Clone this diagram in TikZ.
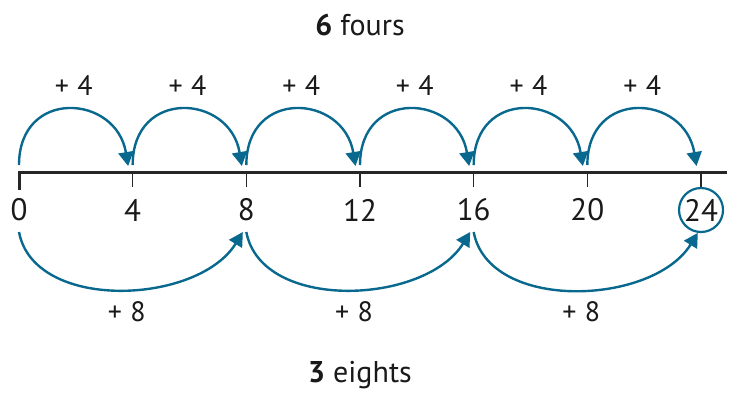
\documentclass[tikz,border=0pt]{standalone}
\usepackage{fontspec}
\setmainfont{PT Sans}
\usetikzlibrary{arrows.meta,calc}
\definecolor{hopblue}{RGB}{8,104,142}

\begin{document}
\begin{tikzpicture}[x=1pt, y=-1pt,
  hop/.style={draw=hopblue, line width=2.4pt, -{Triangle[length=14pt,width=15pt]}},
  tick/.style={line width=1.6pt, draw=black!85},
  num/.style={font=\fontsize{31}{34}\selectfont, text=black!90, inner sep=0pt},
  jump/.style={font=\fontsize{28}{32}\selectfont, text=black!90, inner sep=0pt},
  title/.style={font=\fontsize{30}{34}\selectfont, text=black!90, inner sep=0pt}]
  \useasboundingbox (0,0) rectangle (739,392);

  % number line
  \foreach \n [count=\i from 0] in {0,4,...,24} {
    \coordinate (t\n) at (19+113.67*\i, 172);
  }
  \foreach \n in {4,8,...,20} {
    \draw[tick] (t\n) -- ++(0,15);
    \node[num] (n\n) at ([yshift=-38pt]t\n) {\n};
  }
  \node[num] (n0) at ([yshift=-38pt]t0) {0};
  \node[num, draw=hopblue, line width=2.2pt, circle, minimum size=44pt, inner sep=0pt] (n24) at ([yshift=-38pt]t24) {24};
  \draw[tick] (t24) -- (n24.north);
  \coordinate (end) at (727,172);
  \draw[line width=3pt, draw=black!85] ([yshift=-18pt]t0) -- (t0) -- (end);

  % fours above the line
  \foreach \a/\b in {0/4,4/8,8/12,12/16,16/20,20/24} {
    \draw[hop] ([yshift=7pt]t\a) .. controls +(0,-77) and +(-12,-72) .. ([xshift=-4.5pt,yshift=6pt]t\b);
    \node[jump] (p\b) at ($(t\a)!0.5!(t\b)+(-2,-86)$) {+\hspace{0.3em}4};
  }

  % eights below the line
  \draw[hop] ([yshift=-60pt]t0) .. controls +(15,80) and +(-45,73) .. ([xshift=-3.5pt,yshift=-60pt]t8);
  \draw[hop] ([yshift=-60pt]t8) .. controls +(15,80) and +(-45,73) .. ([xshift=-3.5pt,yshift=-60pt]t16);
  \draw[hop] ([yshift=-60pt]t16) .. controls +(15,80) and +(-45,73) .. (n24.-98);
  \node[jump] (e8) at ($(t0)!0.5!(t8)+(-6,140)$) {+\hspace{0.3em}8};
  \node[jump] (e16) at ($(t8)!0.5!(t16)+(-6,140)$) {+\hspace{0.3em}8};
  \node[jump] (e24) at ($(t16)!0.5!(t24)+(-6,140)$) {+\hspace{0.3em}8};

  % titles
  \node[title] (fours) at (360,25) {\textbf{6} fours};
  \node[title] (eights) at (360,375) {\textbf{3} eights};
\end{tikzpicture}
\end{document}
